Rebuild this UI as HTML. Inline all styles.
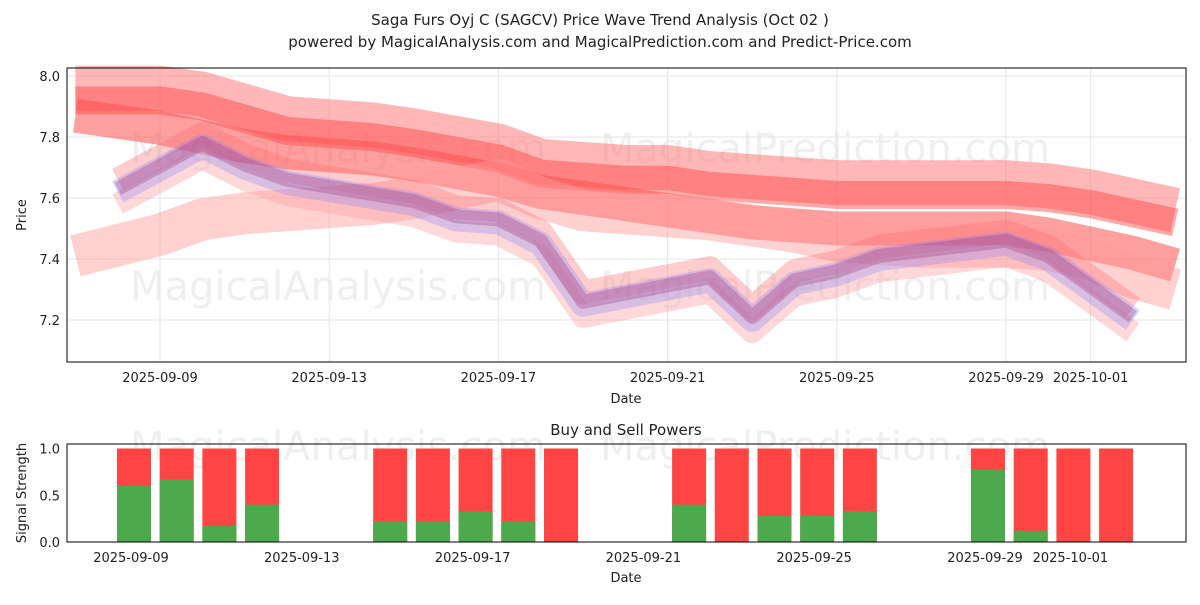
<!DOCTYPE html>
<html><head><meta charset="utf-8"><style>
body{margin:0;background:#fff;font-family:"Liberation Sans","DejaVu Sans",sans-serif}
svg text{font-family:"DejaVu Sans","Liberation Sans",sans-serif;fill:#222}
</style></head><body>
<svg id="c" width="1200" height="600" xmlns="http://www.w3.org/2000/svg">
<text x="600" y="25" font-size="15" text-anchor="middle">Saga Furs Oyj C (SAGCV) Price Wave Trend Analysis (Oct 02 )</text>
<text x="600" y="47" font-size="15" text-anchor="middle">powered by MagicalAnalysis.com and MagicalPrediction.com and Predict-Price.com</text>
<g id="main"></g><g id="sub"></g>
</svg>
<script>
// day offsets from 2025-09-09
const bandDays=[-2,0,1,2,3,5,6,8,9,10,11,12,13,14,15,16,17,18,20,21,22,23,24];
const bandTop=[7.96,7.96,7.94,7.90,7.86,7.84,7.82,7.77,7.72,7.71,7.70,7.70,7.68,7.67,7.66,7.65,7.65,7.65,7.65,7.64,7.62,7.59,7.56];
const bandMid=[7.87,7.83,7.80,7.77,7.75,7.73,7.71,7.66,7.62,7.60,7.58,7.56,7.54,7.52,7.51,7.50,7.50,7.50,7.50,7.48,7.45,7.42,7.38];
const bandLow=[7.43,7.50,7.55,7.57,7.58,7.60,7.62,7.68,7.62,7.58,7.57,7.56,7.55,7.53,7.51,7.48,7.47,7.46,7.46,7.45,7.42,7.36,7.32];
const priceDays=[-1,1,2,3,6,7,8,9,10,13,14,15,16,17,20,21,22,23];
const price=[7.62,7.77,7.70,7.65,7.58,7.53,7.52,7.45,7.25,7.33,7.20,7.32,7.35,7.40,7.45,7.40,7.30,7.20];
const barDays=[0,1,2,3,6,7,8,9,10,13,14,15,16,17,20,21,22,23];
const buyVals=[0.6,0.67,0.17,0.4,0.22,0.22,0.33,0.22,0,0.4,0,0.28,0.28,0.33,0.78,0.12,0,0];
const mainTicks=["2025-09-09","2025-09-13","2025-09-17","2025-09-21","2025-09-25","2025-09-29","2025-10-01"];
const tickDays=[0,4,8,12,16,20,22];
const yTicks=[7.2,7.4,7.6,7.8,8.0];
const subY=[0.0,0.5,1.0];
const NS="http://www.w3.org/2000/svg";
function el(p,t,a){const e=document.createElementNS(NS,t);for(const k in a)e.setAttribute(k,a[k]);p.appendChild(e);return e;}
const M=document.getElementById('main'),S=document.getElementById('sub');
const L=67,R=1186,T=68,B=362;
const x1=d=>160+d*42.3, y1=v=>320-(v-7.2)*305;
const x2=d=>134+d*42.7, y2=v=>542-v*93.5;
[[130,300,"MagicalAnalysis.com"],[600,300,"MagicalPrediction.com"],[130,162,"MagicalAnalysis.com"],[600,162,"MagicalPrediction.com"],[130,460,"MagicalAnalysis.com"],[600,460,"MagicalPrediction.com"]].forEach(w=>{const t=el(M,'text',{x:w[0],y:w[1],'font-size':40,style:'fill:#ccc;opacity:0.3'});t.textContent=w[2];

});
yTicks.forEach(v=>{const l=el(M,'line',{x1:L,x2:R,y1:y1(v),y2:y1(v),stroke:'#e5e5e5'});


const t=el(M,'text',{x:L-7,y:y1(v)+5,'font-size':13,'text-anchor':'end'});t.textContent=v.toFixed(1);

});
tickDays.forEach((d,i)=>{const l=el(M,'line',{x1:x1(d),x2:x1(d),y1:T,y2:B,stroke:'#e5e5e5'});


const t=el(M,'text',{x:x1(d),y:B+20,'font-size':13,'text-anchor':'middle'});t.textContent=mainTicks[i];


const t2=el(S,'text',{x:x2(d)-3,y:562,'font-size':13,'text-anchor':'middle'});t2.textContent=mainTicks[i];

});
function poly(days,vals,off,w,col,op,name){const pts=days.map((d,i)=>x1(d)+','+y1(vals[i]+off)).join(' ');
const p=el(M,'polyline',{points:pts,fill:'none',stroke:col,'stroke-width':w,'stroke-opacity':op,'stroke-linejoin':'round'});

}
poly(bandDays,bandTop,0,45,'#ff7070',0.5,'wave-band-top');
poly(bandDays,bandTop,-0.04,28,'#ff4040',0.45,'wave-band-top-inner');
poly(bandDays,bandMid,0,34,'#ff5050',0.55,'wave-band-mid');
poly(bandDays,bandLow,-0.02,42,'#ff9a9a',0.45,'wave-band-low');
poly(priceDays,price,0.04,24,'#ff7070',0.35,'price-wave-red');
poly(priceDays,price,-0.04,22,'#ffa0a0',0.4,'price-wave-light');
poly(priceDays,price,0,24,'#8080ff',0.3,'price-wave-blue');
poly(priceDays,price,0.01,14,'#a04080',0.35,'price-wave-purple');
el(M,'rect',{x:L,y:T,width:R-L,height:B-T,fill:'none',stroke:'#000'});
let t=el(M,'text',{x:626,y:403,'font-size':13,'text-anchor':'middle'});t.textContent='Date';
t=el(M,'text',{x:26,y:215,'font-size':13,'text-anchor':'middle',transform:'rotate(-90 26 215)'});t.textContent='Price';
const SL=67,SR=1186,ST=444,SB=542;
barDays.forEach((d,i)=>{const x=x2(d)-17;
const r=el(S,'rect',{x:x,y:y2(1),width:34,height:y2(0)-y2(1),fill:'#ff4444'});


const g=el(S,'rect',{x:x,y:y2(buyVals[i]),width:34,height:y2(0)-y2(buyVals[i]),fill:'#4caa4c'});

});
subY.forEach(v=>{const t=el(S,'text',{x:SL-7,y:y2(v)+5,'font-size':13,'text-anchor':'end'});t.textContent=v.toFixed(1);

});
el(S,'rect',{x:SL,y:ST,width:SR-SL,height:SB-ST,fill:'none',stroke:'#000'});
t=el(S,'text',{x:626,y:435,'font-size':15,'text-anchor':'middle'});t.textContent='Buy and Sell Powers';
t=el(S,'text',{x:626,y:582,'font-size':13,'text-anchor':'middle'});t.textContent='Date';
t=el(S,'text',{x:26,y:493,'font-size':13,'text-anchor':'middle',transform:'rotate(-90 26 493)'});t.textContent='Signal Strength';
</script>
</body></html>
